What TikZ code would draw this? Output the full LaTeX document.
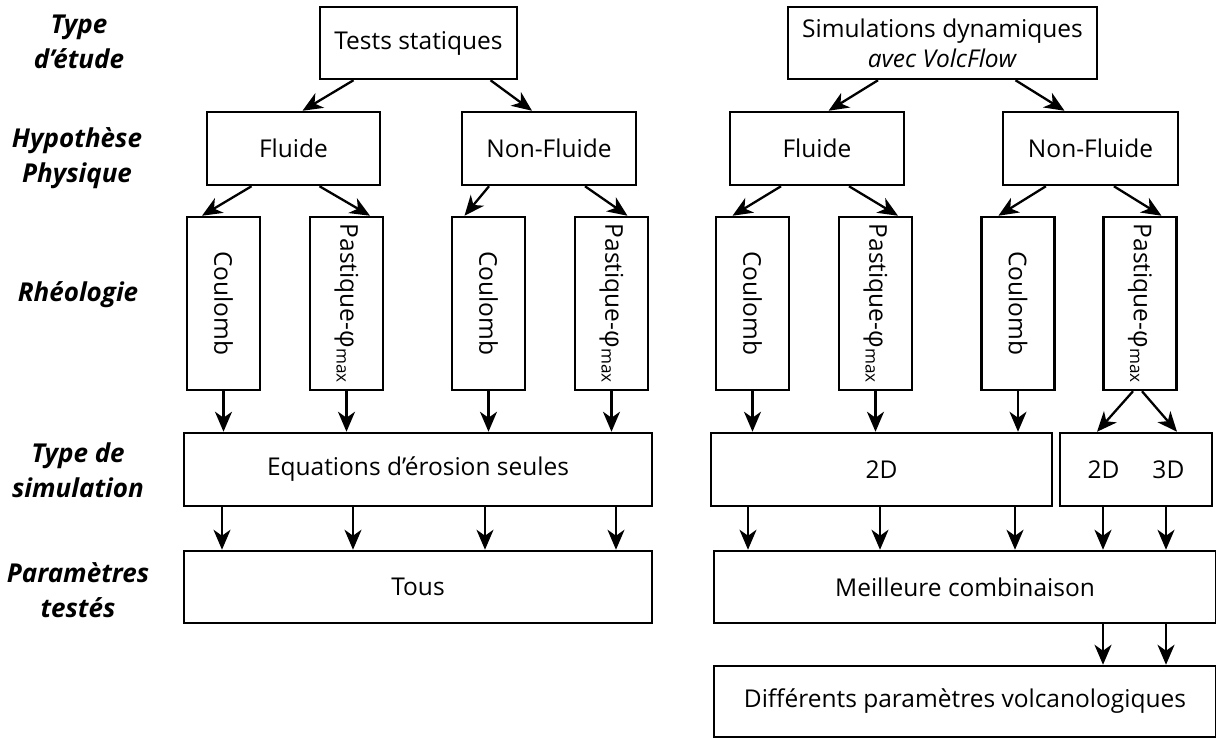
\documentclass[tikz,border=0pt]{standalone}
\usepackage{fontspec}
\usepackage{graphicx}
\setmainfont{Open Sans}
\usetikzlibrary{arrows.meta}
\begin{document}
\begin{tikzpicture}[x=1pt,y=-1pt,
  box/.style={draw, line width=2.5pt, inner sep=0pt, align=center,
    font=\fontsize{24.5}{30}\selectfont},
  rbox/.style={box, minimum width=73pt, minimum height=173pt},
  lab/.style={align=center, inner sep=0pt,
    font=\fontsize{26}{35}\selectfont\bfseries\itshape},
  arr/.style={line width=2.3pt, -{Stealth[length=20pt,width=17pt,inset=6pt]}}
]
\useasboundingbox (0,0) rectangle (1216,738);

% row labels
\node[lab] (l1) at (79,42)  {Type\\d’étude};
\node[lab] (l2) at (77,158) {Hypothèse\\Physique};
\node[lab] (l3) at (78,295) {Rhéologie};
\node[lab] (l4) at (78,470) {Type de\\simulation};
\node[lab] (l5) at (78,590) {Paramètres\\testés};

% top
\node[box, minimum width=197pt, minimum height=72pt] (ts) at (418.5,43) {Tests statiques};
\node[box, minimum width=309pt, minimum height=72pt] (sd) at (942.5,43) {Simulations dynamiques\\\textit{avec VolcFlow}};

% hypotheses
\node[box, minimum width=173pt, minimum height=73pt] (fl1) at (293.5,148.5) {Fluide};
\node[box, minimum width=174pt, minimum height=73pt] (nf1) at (549,148.5) {Non-Fluide};
\node[box, minimum width=174pt, minimum height=73pt] (fl2) at (817,148.5) {Fluide};
\node[box, minimum width=175pt, minimum height=73pt] (nf2) at (1090.5,148.5) {Non-Fluide};

% rheology
\newcommand{\coul}{\rotatebox{-90}{Coulomb}}
\newcommand{\plast}{\rotatebox{-90}{Pastique-φ\textsubscript{max}}}
\node[rbox] (c1) at (223.5,303.5) {\coul};
\node[rbox] (p1) at (346.5,303.5) {\plast};
\node[rbox] (c2) at (488.5,303.5) {\coul};
\node[rbox] (p2) at (611.5,303.5) {\plast};
\node[rbox] (c3) at (752.5,303.5) {\coul};
\node[rbox] (p3) at (875.5,303.5) {\plast};
\node[rbox] (c4) at (1018,303.5) {\coul};
\node[rbox] (p4) at (1140,303.5) {\plast};

% simulation type
\node[box, minimum width=468pt, minimum height=73pt] (eq) at (418,469.5) {Equations d’érosion seules};
\node[box, minimum width=341pt, minimum height=73pt] (d2) at (881.5,469.5) {2D};
\node[box, minimum width=152pt, minimum height=73pt] (d23) at (1136,469.5) {2D\hspace{33pt}3D};

% parameters
\node[box, minimum width=468pt, minimum height=72pt] (tous) at (418,587) {Tous};
\node[box, minimum width=502pt, minimum height=72pt] (mc) at (965,587) {Meilleure combinaison};
\node[box, minimum width=502pt, minimum height=71pt] (diff) at (965,701.5) {Différents paramètres volcanologiques};

\coordinate (xa) at (1103,0);
\coordinate (xb) at (1166,0);

% arrows level 1
\draw[arr] ([xshift=-65pt]ts.south) -- ([xshift=9pt]fl1.north);
\draw[arr] ([xshift=72pt]ts.south) -- ([xshift=-17pt]nf1.north);
\draw[arr] ([xshift=-64.5pt]sd.south) -- ([xshift=11.6pt]fl2.north);
\draw[arr] ([xshift=73pt]sd.south) -- ([xshift=-26pt]nf2.north);

% arrows level 2
\draw[arr] ([xshift=-42pt]fl1.south) -- ([xshift=-21.5pt]c1.north);
\draw[arr] ([xshift=26pt]fl1.south) -- ([xshift=23.5pt]p1.north);
\draw[arr] ([xshift=-60pt]nf1.south) -- ([xshift=-24pt]c2.north);
\draw[arr] ([xshift=36pt]nf1.south) -- ([xshift=16pt]p2.north);
\draw[arr] ([xshift=-36pt]fl2.south) -- ([xshift=-20pt]c3.north);
\draw[arr] ([xshift=32pt]fl2.south) -- ([xshift=22.5pt]p3.north);
\draw[arr] ([xshift=-44.6pt]nf2.south) -- ([xshift=-19.6pt]c4.north);
\draw[arr] ([xshift=23.4pt]nf2.south) -- ([xshift=21.5pt]p4.north);

% arrows level 3
\foreach \n in {c1,p1,c2,p2}{\draw[arr] (\n.south) -- (\n.south |- eq.north);}
\foreach \n in {c3,p3,c4}{\draw[arr] (\n.south) -- (\n.south |- d2.north);}
\draw[arr] ([xshift=-7pt]p4.south) -- ([xshift=-39pt]d23.north);
\draw[arr] ([xshift=2pt]p4.south) -- ([xshift=41pt]d23.north);

% arrows level 4
\foreach \s in {-196,-65,67,198}{\draw[arr] ([xshift=\s pt]eq.south) -- ([xshift=\s pt]eq.south |- tous.north);}
\foreach \s in {-133.5,-1.5,133.5}{\draw[arr] ([xshift=\s pt]d2.south) -- ([xshift=\s pt]d2.south |- mc.north);}
\draw[arr] (d23.south -| xa) -- (mc.north -| xa);
\draw[arr] (d23.south -| xb) -- (mc.north -| xb);

% arrows level 5
\draw[arr] (mc.south -| xa) -- (diff.north -| xa);
\draw[arr] (mc.south -| xb) -- (diff.north -| xb);
\end{tikzpicture}
\end{document}
